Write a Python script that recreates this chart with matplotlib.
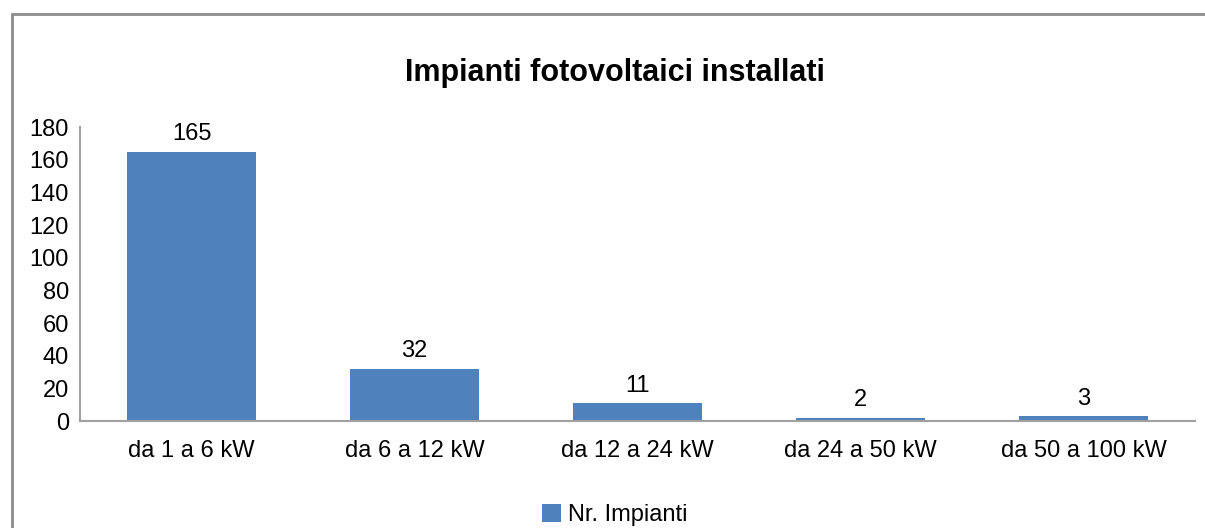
import matplotlib
matplotlib.use("Agg")
import matplotlib.pyplot as plt
from matplotlib.patches import Rectangle

categories = ["da 1 a 6 kW", "da 6 a 12 kW", "da 12 a 24 kW", "da 24 a 50 kW", "da 50 a 100 kW"]
values = [165, 32, 11, 2, 3]
series_name = "Nr. Impianti"
title = "Impianti fotovoltaici installati"
yticks = [0, 20, 40, 60, 80, 100, 120, 140, 160, 180]

FONT = ["Liberation Sans Narrow", "Liberation Sans", "DejaVu Sans"]
plt.rcParams["font.family"] = FONT

W, H = 1205, 528
fig = plt.figure(figsize=(W / 100, H / 100), dpi=100)

# outer border of chart area
fig.add_artist(Rectangle((12 / W, -0.1), 1.2, (H - 14) / H + 0.1, transform=fig.transFigure,
                         fill=False, edgecolor="#8c8c8c", linewidth=2))

ax = fig.add_axes([80 / W, 1 - 421 / H, (1195 - 80) / W, (421 - 127) / H])
color = "#4F81BD"
x = list(range(len(categories)))
bars = ax.bar(x, values, width=0.575, color=color, label=series_name, zorder=2)
for xi, v in zip(x, values):
    ax.text(xi, v + 4, str(v), ha="center", va="bottom", fontsize=17, color="black")

ax.set_xlim(-0.5, len(categories) - 0.5)
ax.set_ylim(0, 180)
ax.set_yticks(yticks)
ax.set_yticklabels([str(t) for t in yticks], fontsize=17)
ax.set_xticks(x)
ax.set_xticklabels(categories, fontsize=17)
ax.tick_params(axis="both", length=0)
ax.tick_params(axis="x", pad=14)
ax.tick_params(axis="y", pad=8)
for s in ["top", "right"]:
    ax.spines[s].set_visible(False)
for s in ["left", "bottom"]:
    ax.spines[s].set_color("#a0a0a0")
    ax.spines[s].set_linewidth(1.5)

fig.text(615 / W, 1 - 73 / H, title, ha="center", va="center", fontsize=22, fontweight="bold")

fig.legend(handles=[bars], labels=[series_name], loc="center", bbox_to_anchor=(615 / W, 1 - 515 / H),
           frameon=False, fontsize=17, handlelength=0.8, handleheight=0.8, handletextpad=0.3)

fig.savefig("out.png", dpi=100)
